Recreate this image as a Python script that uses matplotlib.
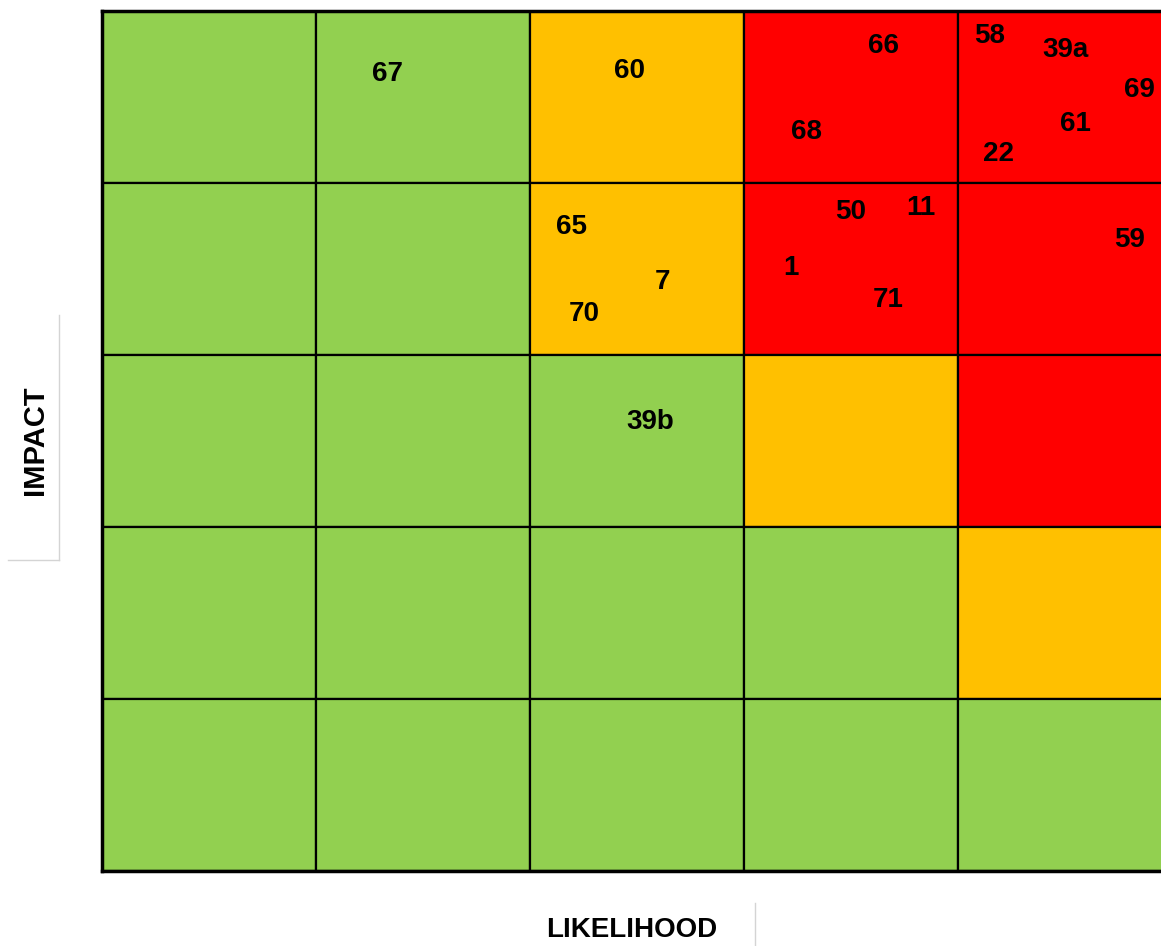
import matplotlib.pyplot as plt
from matplotlib.patches import Rectangle
from matplotlib.lines import Line2D

plt.rcParams['font.family'] = ['Liberation Sans', 'DejaVu Sans']

# cell colours, top row = highest impact
G, O, R = '#92D050', '#FFC000', '#FF0000'
grid_colors = [
    [G, G, O, R, R],
    [G, G, O, R, R],
    [G, G, G, O, R],
    [G, G, G, G, O],
    [G, G, G, G, G],
]

# risk ids and their place on the matrix (likelihood, impact units)
risk_ids = ['67', '60', '66', '68', '58', '39a', '69', '61', '22',
            '65', '7', '70', '50', '11', '1', '71', '59', '39b']
risk_x = [1.336, 2.463, 3.654, 3.294, 4.150, 4.500, 4.850, 4.547, 4.187,
          2.192, 2.617, 2.252, 3.500, 3.827, 3.220, 3.673, 4.804, 2.561]
risk_y = [4.634, 4.651, 4.797, 4.297, 4.855, 4.773, 4.541, 4.343, 4.169,
          3.744, 3.424, 3.238, 3.831, 3.855, 3.506, 3.320, 3.669, 2.610]

W, H = 1161, 946
fig = plt.figure(figsize=(W / 100, H / 100), dpi=100)
# grid cell is 214 x 172 px; last column runs off the right edge
ax = fig.add_axes([102 / W, (H - 871) / H, 1070 / W, 860 / H])
ax.set_xlim(0, 5)
ax.set_ylim(0, 5)

n = len(grid_colors)
for r in range(n):
    for c in range(n):
        ax.add_patch(Rectangle((c, n - 1 - r), 1, 1, facecolor=grid_colors[r][c],
                               edgecolor='black', linewidth=1.6))

for lab, x, y in zip(risk_ids, risk_x, risk_y):
    ax.text(x, y, lab, ha='center', va='center', fontsize=20, fontweight='bold')

ax.set_xticks([])
ax.set_yticks([])
for s in ax.spines.values():
    s.set_linewidth(2.5)

fig.text(35 / W, 1 - 440 / H, 'IMPACT', rotation=90, ha='center', va='center',
         fontsize=21, fontweight='bold')
fig.text(632 / W, 1 - 930 / H, 'LIKELIHOOD', ha='center', va='center',
         fontsize=20, fontweight='bold')

# faint text-box edges
gray = '#d4d4d4'
fig.add_artist(Line2D([59 / W, 59 / W], [1 - 315 / H, 1 - 560 / H], color=gray, lw=1))
fig.add_artist(Line2D([8 / W, 59 / W], [1 - 560 / H, 1 - 560 / H], color=gray, lw=1))
fig.add_artist(Line2D([755 / W, 755 / W], [1 - 903 / H, 0], color=gray, lw=1))

fig.savefig('out.png', dpi=100)
